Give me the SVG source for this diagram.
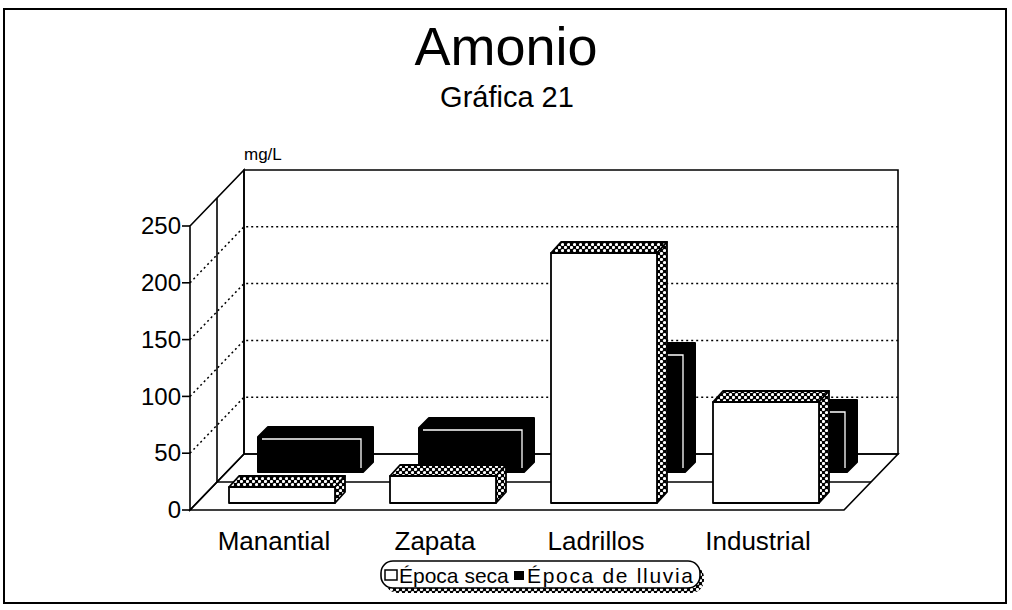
<svg xmlns="http://www.w3.org/2000/svg" width="1012" height="610" viewBox="0 0 1012 610">
<style>
text{font-family:"Liberation Sans",Arial,sans-serif;fill:#000}
.ln{stroke:#000;stroke-width:1.6;fill:none}
.dot{stroke:#000;stroke-width:1.5;fill:none;stroke-dasharray:2 3}
.face{fill:#fff;stroke:#000;stroke-width:1.8;stroke-linejoin:round}
.hat{fill:url(#chk);stroke:#000;stroke-width:1.8;stroke-linejoin:round}
.blk{fill:#000;stroke:#000;stroke-width:2;stroke-linejoin:round}
.hl{stroke:#fff;stroke-width:1.3;fill:none}
.ylab{font-size:24px;text-anchor:end}
.xlab{font-size:26px;text-anchor:middle}
.leg{font-size:21px}
</style>
<defs>
<pattern id="chk" width="6" height="6" patternUnits="userSpaceOnUse">
<rect width="6" height="6" fill="#000"/>
<circle cx="1.5" cy="1.5" r="1.6" fill="#fff"/>
<circle cx="4.5" cy="4.5" r="1.6" fill="#fff"/>
</pattern>
</defs>
<rect x="4" y="9" width="1002" height="594" fill="#fff" stroke="#000" stroke-width="2"/>
<g id="title">
<text x="506" y="65" font-size="54" text-anchor="middle">Amonio</text>
<text x="507" y="107" font-size="29" text-anchor="middle" fill="#222">Gráfica 21</text>
</g>
<g id="walls">
<polygon class="ln" points="244,170 898,170 898,454 244,454"/>
<polygon class="ln" points="190,226 244,170 244,454 190,510"/>
<polygon class="ln" points="190,510 844,510 898,454 244,454"/>
<line class="ln" x1="217" y1="198" x2="217" y2="482"/>
<line class="ln" x1="217" y1="482" x2="871" y2="482"/>
</g>
<g id="gridlines">
<polyline class="dot" points="190,453.2 244,397.2 898,397.2"/>
<polyline class="dot" points="190,396.4 244,340.4 898,340.4"/>
<polyline class="dot" points="190,339.6 244,283.6 898,283.6"/>
<polyline class="dot" points="190,282.8 244,226.8 898,226.8"/>
</g>
<g id="yaxis">
<line class="ln" x1="182" y1="510" x2="190" y2="510"/>
<line class="ln" x1="182" y1="453.2" x2="190" y2="453.2"/>
<line class="ln" x1="182" y1="396.4" x2="190" y2="396.4"/>
<line class="ln" x1="182" y1="339.6" x2="190" y2="339.6"/>
<line class="ln" x1="182" y1="282.8" x2="190" y2="282.8"/>
<line class="ln" x1="182" y1="226" x2="190" y2="226"/>
<text class="ylab" x="181" y="518">0</text>
<text class="ylab" x="181" y="461">50</text>
<text class="ylab" x="181" y="405">100</text>
<text class="ylab" x="181" y="348">150</text>
<text class="ylab" x="181" y="291">200</text>
<text class="ylab" x="181" y="234">250</text>
<text x="244" y="160" font-size="17">mg/L</text>
</g>
<g id="lluvia">
<polygon class="blk" points="258,472 258,437 268,427 373,427 373,462 363,472"/>
<polyline class="hl" points="262,439 361,439 361,468"/>
<polygon class="blk" points="419,472 419,428 429,418 534,418 534,462 524,472"/>
<polyline class="hl" points="423,430 522,430 522,468"/>
<polygon class="blk" points="580,472 580,353 590,343 695,343 695,462 685,472"/>
<polyline class="hl" points="584,355 683,355 683,468"/>
<polygon class="blk" points="742,472 742,410 752,400 857,400 857,462 847,472"/>
<polyline class="hl" points="746,412 845,412 845,468"/>
</g>
<g id="seca">
<polygon class="hat" points="229,487 239,476 345,476 335,487"/>
<polygon class="hat" points="335,487 345,476 345,492 335,503"/>
<rect class="face" x="229" y="487" width="106" height="16"/>
<polygon class="hat" points="390,476 400,465 506,465 496,476"/>
<polygon class="hat" points="496,476 506,465 506,492 496,503"/>
<rect class="face" x="390" y="476" width="106" height="27"/>
<polygon class="hat" points="551,253 561,242 667,242 657,253"/>
<polygon class="hat" points="657,253 667,242 667,492 657,503"/>
<rect class="face" x="551" y="253" width="106" height="250"/>
<polygon class="hat" points="713,402 723,391 829,391 819,402"/>
<polygon class="hat" points="819,402 829,391 829,492 819,503"/>
<rect class="face" x="713" y="402" width="106" height="101"/>
</g>
<g id="xaxis">
<text class="xlab" x="274" y="550">Manantial</text>
<text class="xlab" x="435" y="550">Zapata</text>
<text class="xlab" x="596" y="550">Ladrillos</text>
<text class="xlab" x="758" y="550">Industrial</text>
</g>
<g id="legend">
<rect x="385" y="565" width="319" height="28" rx="13" fill="url(#chk)"/>
<rect x="381" y="561" width="319" height="27" rx="12" fill="#fff" stroke="#000" stroke-width="1.6"/>
<rect x="385" y="570" width="12" height="10" fill="#fff" stroke="#000" stroke-width="1.5"/>
<text class="leg" x="399" y="583">Época seca</text>
<rect x="514" y="571" width="10" height="9" fill="#000"/>
<text class="leg" x="527" y="583" textLength="166" lengthAdjust="spacing">Época de lluvia</text>
</g>
</svg>
